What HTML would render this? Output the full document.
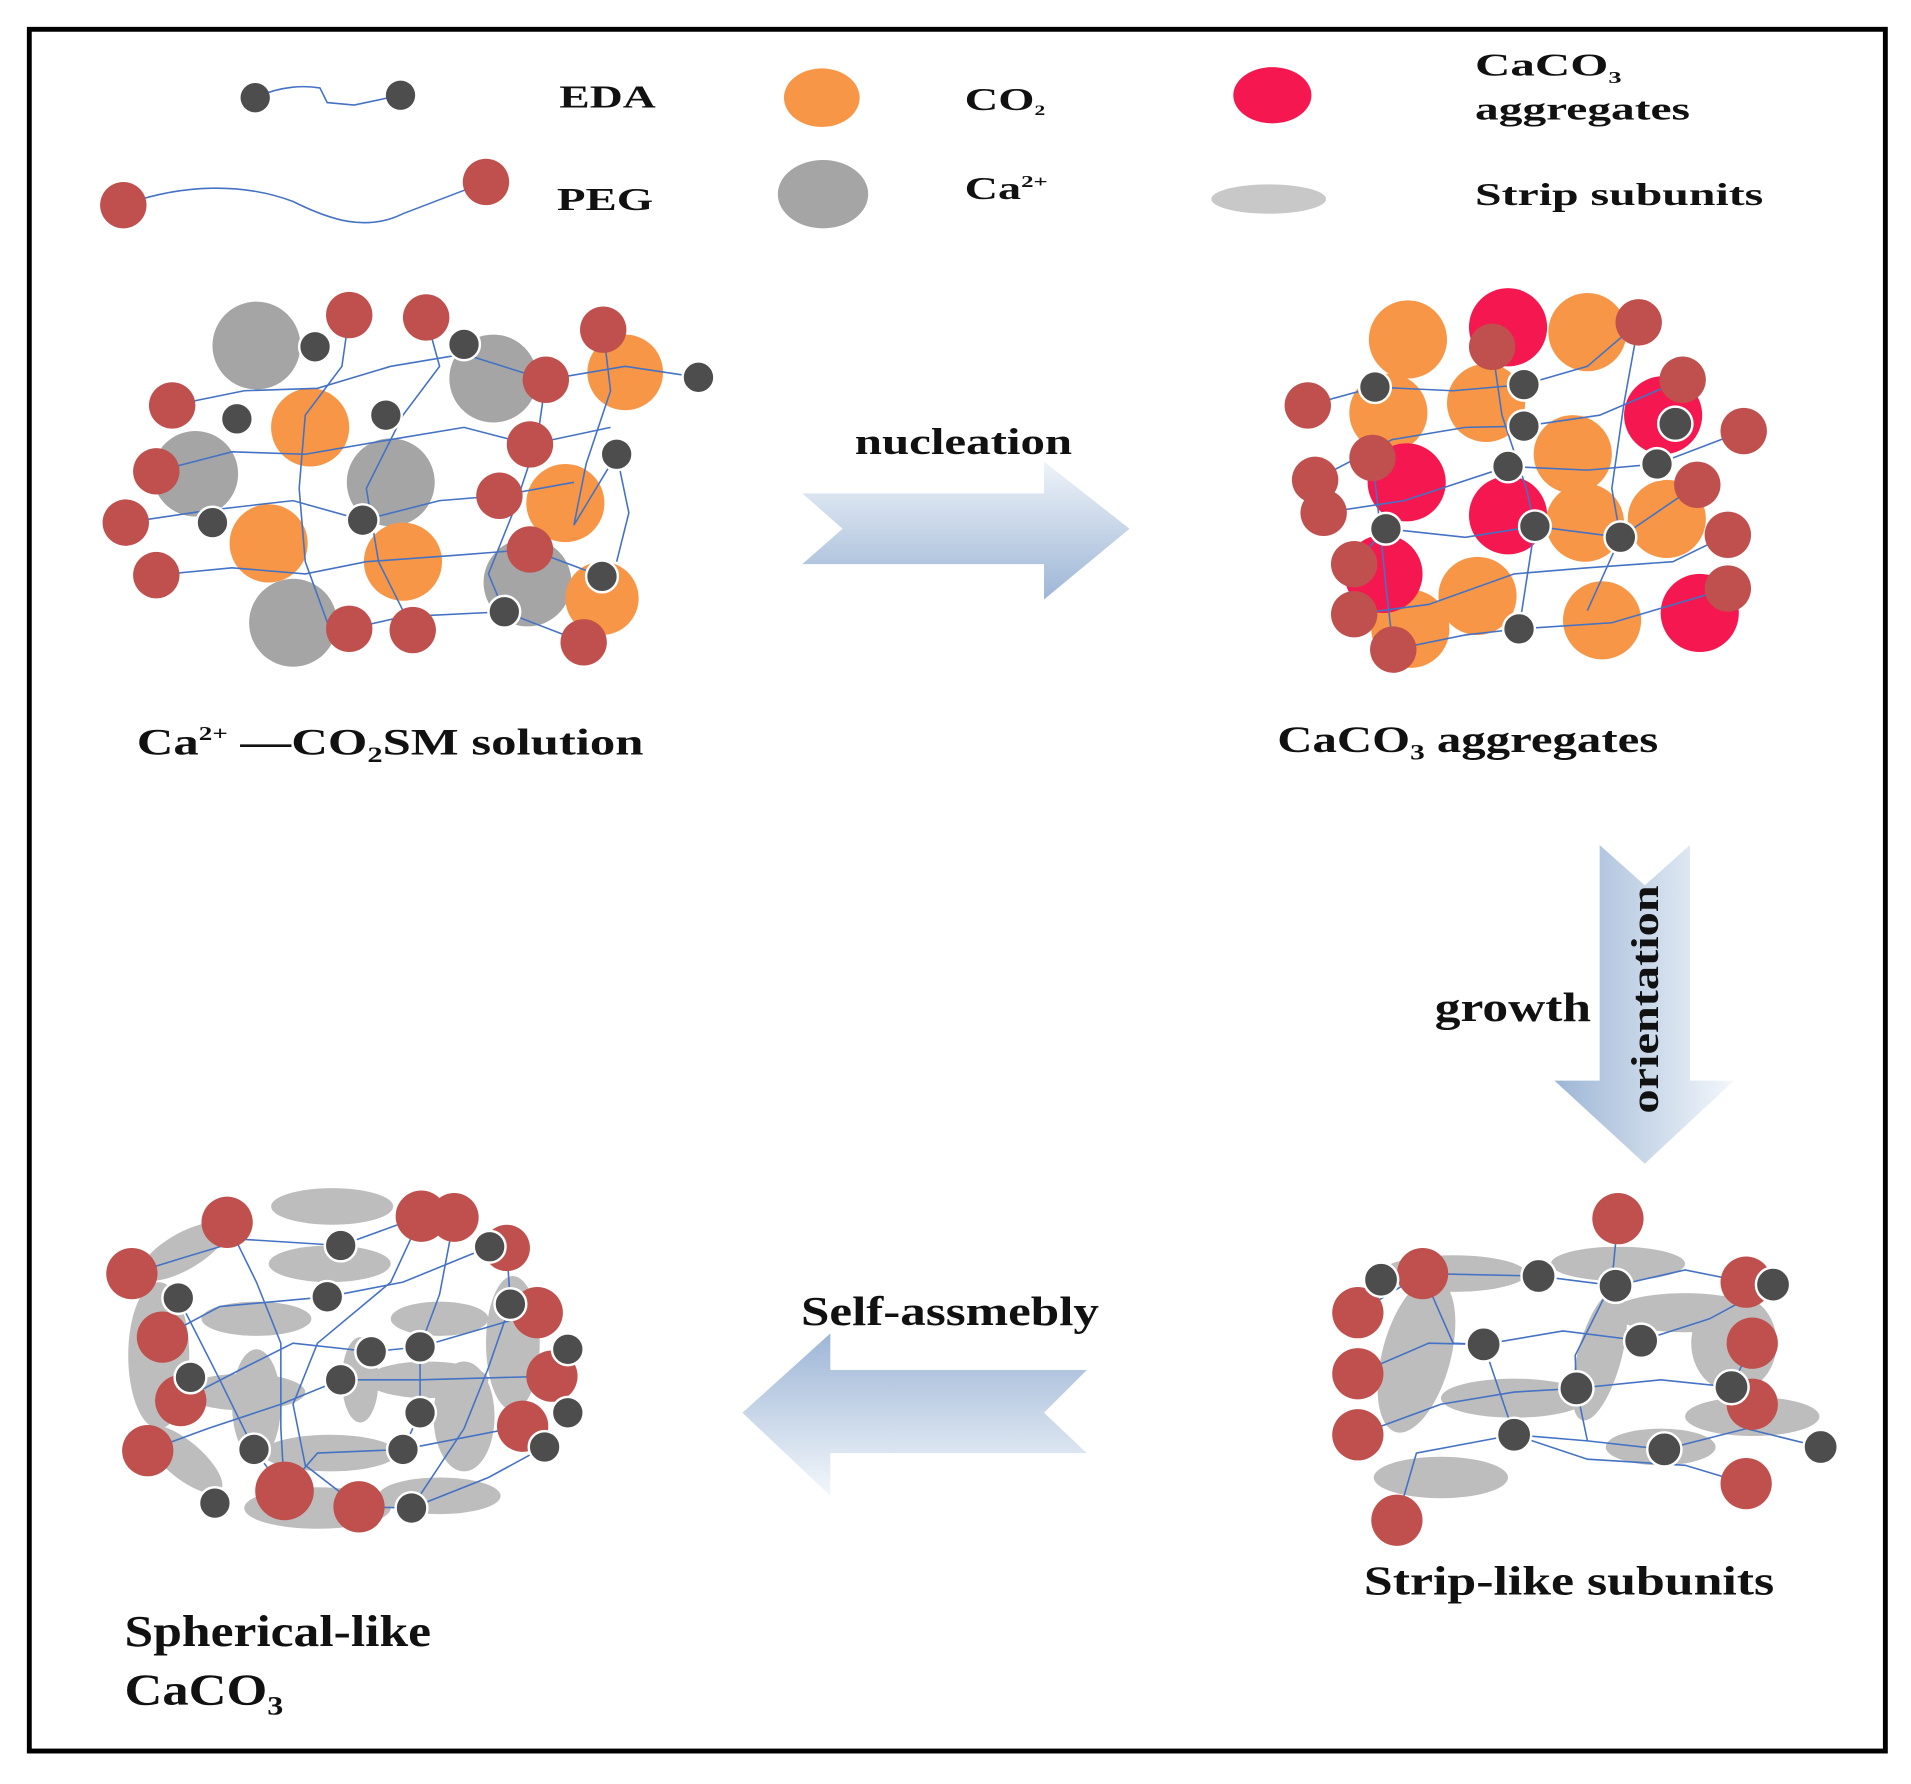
<!DOCTYPE html>
<html><head><meta charset="utf-8"><style>
html,body{margin:0;padding:0;background:#fff;}
svg{display:block;}
text{font-family:"Liberation Serif",serif;font-weight:bold;fill:#111;}
</style></head><body>
<svg width="1911" height="1784" viewBox="0 0 1565 1461" preserveAspectRatio="none" xmlns="http://www.w3.org/2000/svg">
<defs>
<linearGradient id="gh" x1="0" y1="0" x2="0" y2="1"><stop offset="0" stop-color="#eef3f9"/><stop offset="1" stop-color="#9db6d6"/></linearGradient>
<linearGradient id="gv" x1="0" y1="0" x2="1" y2="0"><stop offset="0" stop-color="#9db6d6"/><stop offset="1" stop-color="#f3f7fb"/></linearGradient>
<linearGradient id="gl" x1="0" y1="0" x2="0" y2="1"><stop offset="0" stop-color="#9db6d6"/><stop offset="1" stop-color="#f3f7fb"/></linearGradient>
</defs>
<rect x="0" y="0" width="1565" height="1461" fill="#fff"/>
<rect x="24" y="24" width="1520" height="1410" fill="none" stroke="#000" stroke-width="4"/>

<!-- legend -->
<g fill="none" stroke="#4472c4" stroke-width="1.3">
<path d="M209,80 C230,70 250,70 262,72 L268,84 L290,86 L328,78"/>
<path d="M101,168 C150,150 200,150 240,165 C270,180 300,190 330,175 L398,149"/>
</g>
<circle cx="209" cy="80" r="12" fill="#4d4d4d"/><circle cx="328" cy="78" r="12" fill="#4d4d4d"/>
<circle cx="101" cy="168" r="19" fill="#c0504d"/><circle cx="398" cy="149" r="19" fill="#c0504d"/>
<ellipse cx="673" cy="80" rx="31" ry="24" fill="#f79646"/>
<ellipse cx="674" cy="159" rx="37" ry="28" fill="#a5a5a5"/>
<ellipse cx="1042" cy="78" rx="32" ry="23" fill="#f5174f"/>
<ellipse cx="1039" cy="163" rx="47" ry="12" fill="#c8c8c8"/>
<text x="458" y="88" font-size="26" textLength="79" lengthAdjust="spacingAndGlyphs">EDA</text>
<text x="456" y="172" font-size="26" textLength="79" lengthAdjust="spacingAndGlyphs">PEG</text>
<text x="790" y="90" font-size="26" textLength="66" lengthAdjust="spacingAndGlyphs">CO<tspan font-size="12" dy="4">2</tspan></text>
<text x="790" y="163" font-size="26" textLength="68" lengthAdjust="spacingAndGlyphs">Ca<tspan font-size="14" dy="-10">2+</tspan></text>
<text x="1208" y="62" font-size="26" textLength="120" lengthAdjust="spacingAndGlyphs">CaCO<tspan font-size="14" dy="6">3</tspan></text>
<text x="1208" y="98" font-size="26" textLength="176" lengthAdjust="spacingAndGlyphs">aggregates</text>
<text x="1208" y="168" font-size="26" textLength="236" lengthAdjust="spacingAndGlyphs">Strip subunits</text>

<!-- arrows -->
<polygon points="657,404 855,404 855,378 925,433 855,491 855,462 657,462 690,433" fill="url(#gh)"/>
<polygon points="1310,692 1347,725 1384,692 1384,885 1420,885 1347,953 1273,885 1310,885" fill="url(#gv)"/>
<polygon points="890,1122 680,1122 680,1092 608,1157 680,1225 680,1190 890,1190 855,1157" fill="url(#gl)"/>
<text x="700" y="372" font-size="30" textLength="178" lengthAdjust="spacingAndGlyphs">nucleation</text>
<text x="1175" y="836" font-size="34" textLength="128" lengthAdjust="spacingAndGlyphs">growth</text>
<text transform="translate(1358,912) rotate(-90)" x="0" y="0" font-size="32" textLength="187" lengthAdjust="spacingAndGlyphs">orientation</text>
<text x="656" y="1085" font-size="34" textLength="244" lengthAdjust="spacingAndGlyphs">Self-assmebly</text>

<text x="112" y="618" font-size="30" textLength="415" lengthAdjust="spacingAndGlyphs">Ca<tspan font-size="16" dy="-12">2+</tspan><tspan dy="12"> —CO</tspan><tspan font-size="18" dy="6">2</tspan><tspan dy="-6">SM solution</tspan></text>
<text x="1046" y="616" font-size="30" textLength="312" lengthAdjust="spacingAndGlyphs">CaCO<tspan font-size="18" dy="6">3</tspan><tspan dy="-6"> aggregates</tspan></text>
<text x="1117" y="1306" font-size="34" textLength="336" lengthAdjust="spacingAndGlyphs">Strip-like subunits</text>
<text x="102" y="1348" font-size="36" textLength="251" lengthAdjust="spacingAndGlyphs">Spherical-like</text>
<text x="102" y="1396" font-size="36" textLength="130" lengthAdjust="spacingAndGlyphs">CaCO<tspan font-size="22" dy="8">3</tspan></text>

<!-- cluster 1 -->
<g fill="#a5a5a5">
<circle cx="210" cy="283" r="36"/><circle cx="404" cy="310" r="36"/><circle cx="160" cy="388" r="35"/><circle cx="320" cy="395" r="36"/><circle cx="240" cy="510" r="36"/><circle cx="432" cy="477" r="36"/>
</g>
<g fill="#f79646">
<circle cx="512" cy="305" r="31"/><circle cx="254" cy="350" r="32"/><circle cx="463" cy="412" r="32"/><circle cx="220" cy="445" r="32"/><circle cx="330" cy="460" r="32"/><circle cx="493" cy="490" r="30"/>
</g>
<g fill="none" stroke="#4472c4" stroke-width="1.3">
<path d="M141,332 L200,320 L260,318 L320,300 L380,290 L447,311 L512,300 L572,309"/>
<path d="M128,386 L190,370 L250,372 L320,360 L380,350 L434,364 L500,350"/>
<path d="M103,428 L170,418 L240,410 L297,426 L360,410 L409,406 L470,395"/>
<path d="M128,471 L190,465 L250,470 L300,460 L370,455 L434,450 L493,472"/>
<path d="M286,515 L330,505 L413,501 L478,526"/>
<path d="M286,258 L280,300 L250,340 L245,400 L250,460 L270,515"/>
<path d="M349,260 L360,300 L330,340 L300,400 L310,460 L338,516"/>
<path d="M494,270 L500,320 L480,380 L470,430 L505,372 L515,420 L505,460"/>
<path d="M447,311 L440,360 L420,420 L400,470 L413,501"/>
</g>
<g fill="#c0504d">
<circle cx="286" cy="258" r="19"/><circle cx="349" cy="260" r="19"/><circle cx="494" cy="270" r="19"/><circle cx="447" cy="311" r="19"/><circle cx="141" cy="332" r="19"/><circle cx="128" cy="386" r="19"/><circle cx="434" cy="364" r="19"/><circle cx="409" cy="406" r="19"/><circle cx="103" cy="428" r="19"/><circle cx="128" cy="471" r="19"/><circle cx="434" cy="450" r="19"/><circle cx="286" cy="515" r="19"/><circle cx="338" cy="516" r="19"/><circle cx="478" cy="526" r="19"/>
</g>
<g fill="#4d4d4d" stroke="#fff" stroke-width="2">
<circle cx="258" cy="284" r="13"/><circle cx="380" cy="282" r="13"/><circle cx="572" cy="309" r="13"/><circle cx="194" cy="343" r="13"/><circle cx="316" cy="340" r="13"/><circle cx="505" cy="372" r="13"/><circle cx="174" cy="428" r="13"/><circle cx="297" cy="426" r="13"/><circle cx="413" cy="501" r="13"/><circle cx="493" cy="472" r="13"/>
</g>

<!-- cluster 2 -->
<g fill="#f79646">
<circle cx="1153" cy="278" r="32"/><circle cx="1300" cy="272" r="32"/><circle cx="1137" cy="338" r="32"/><circle cx="1217" cy="330" r="32"/><circle cx="1288" cy="372" r="32"/><circle cx="1298" cy="428" r="32"/><circle cx="1365" cy="425" r="32"/><circle cx="1210" cy="488" r="32"/><circle cx="1312" cy="508" r="32"/><circle cx="1155" cy="515" r="32"/>
</g>
<g fill="#f5174f">
<circle cx="1235" cy="268" r="32"/><circle cx="1362" cy="340" r="32"/><circle cx="1152" cy="395" r="32"/><circle cx="1235" cy="422" r="32"/><circle cx="1133" cy="470" r="32"/><circle cx="1392" cy="502" r="32"/>
</g>
<g fill="none" stroke="#4472c4" stroke-width="1.3">
<path d="M1071,332 L1126,317 L1190,320 L1248,315 L1300,300 L1342,264"/>
<path d="M1077,393 L1140,360 L1200,350 L1248,349 L1310,340 L1378,311"/>
<path d="M1084,420 L1150,410 L1235,382 L1300,385 L1357,380 L1428,353"/>
<path d="M1109,462 L1135,433 L1200,440 L1257,431 L1327,440 L1390,397"/>
<path d="M1109,503 L1170,495 L1240,470 L1300,465 L1370,460 L1415,438"/>
<path d="M1141,532 L1200,520 L1244,515 L1320,510 L1415,482"/>
<path d="M1124,375 L1130,430 L1135,480 L1141,532"/>
<path d="M1222,284 L1230,340 L1250,400 L1257,431 L1244,515"/>
<path d="M1342,264 L1330,330 L1320,400 L1327,440 L1300,500"/>
</g>
<g fill="#c0504d">
<circle cx="1342" cy="264" r="19"/><circle cx="1222" cy="284" r="19"/><circle cx="1378" cy="311" r="19"/><circle cx="1071" cy="332" r="19"/><circle cx="1428" cy="353" r="19"/><circle cx="1124" cy="375" r="19"/><circle cx="1077" cy="393" r="19"/><circle cx="1390" cy="397" r="19"/><circle cx="1084" cy="420" r="19"/><circle cx="1415" cy="438" r="19"/><circle cx="1109" cy="462" r="19"/><circle cx="1415" cy="482" r="19"/><circle cx="1109" cy="503" r="19"/><circle cx="1141" cy="532" r="19"/>
</g>
<g fill="#4d4d4d" stroke="#fff" stroke-width="2">
<circle cx="1126" cy="317" r="13"/><circle cx="1248" cy="315" r="13"/><circle cx="1248" cy="349" r="13"/><circle cx="1372" cy="347" r="14"/><circle cx="1235" cy="382" r="13"/><circle cx="1357" cy="380" r="13"/><circle cx="1135" cy="433" r="13"/><circle cx="1257" cy="431" r="13"/><circle cx="1327" cy="440" r="13"/><circle cx="1244" cy="515" r="13"/>
</g>

<!-- cluster 3 -->
<g fill="#bdbdbd">
<ellipse cx="1190" cy="1043" rx="60" ry="15"/><ellipse cx="1325" cy="1035" rx="55" ry="14"/><ellipse cx="1160" cy="1110" rx="28" ry="65" transform="rotate(15 1160 1110)"/><ellipse cx="1240" cy="1145" rx="60" ry="16"/><ellipse cx="1435" cy="1160" rx="55" ry="16"/><ellipse cx="1360" cy="1185" rx="45" ry="15"/><ellipse cx="1180" cy="1210" rx="55" ry="17"/><ellipse cx="1380" cy="1075" rx="60" ry="16"/><ellipse cx="1310" cy="1110" rx="18" ry="55" transform="rotate(15 1310 1110)"/><ellipse cx="1420" cy="1100" rx="35" ry="40"/>
</g>
<g fill="none" stroke="#4472c4" stroke-width="1.3">
<path d="M1112,1075 L1165,1043 L1260,1045 L1323,1053 L1380,1040 L1430,1050"/>
<path d="M1112,1125 L1170,1100 L1215,1101 L1280,1090 L1344,1098 L1400,1080 L1452,1052"/>
<path d="M1112,1175 L1180,1150 L1240,1140 L1291,1137 L1360,1130 L1418,1136 L1435,1100"/>
<path d="M1144,1245 L1160,1190 L1240,1175 L1300,1180 L1363,1187 L1430,1170 L1491,1185"/>
<path d="M1325,998 L1320,1050 L1290,1110 L1291,1137 L1300,1180"/>
<path d="M1165,1043 L1190,1100 L1215,1101 L1240,1175"/>
<path d="M1430,1215 L1380,1200 L1300,1195 L1240,1175"/>
</g>
<g fill="#c0504d">
<circle cx="1325" cy="998" r="21"/><circle cx="1165" cy="1043" r="21"/><circle cx="1430" cy="1050" r="21"/><circle cx="1112" cy="1075" r="21"/><circle cx="1435" cy="1100" r="21"/><circle cx="1112" cy="1125" r="21"/><circle cx="1435" cy="1150" r="21"/><circle cx="1112" cy="1175" r="21"/><circle cx="1430" cy="1215" r="21"/><circle cx="1144" cy="1245" r="21"/>
</g>
<g fill="#4d4d4d" stroke="#fff" stroke-width="2">
<circle cx="1131" cy="1048" r="14"/><circle cx="1260" cy="1045" r="14"/><circle cx="1323" cy="1053" r="14"/><circle cx="1452" cy="1052" r="14"/><circle cx="1215" cy="1101" r="14"/><circle cx="1344" cy="1098" r="14"/><circle cx="1291" cy="1137" r="14"/><circle cx="1418" cy="1136" r="14"/><circle cx="1240" cy="1175" r="14"/><circle cx="1363" cy="1187" r="14"/><circle cx="1491" cy="1185" r="14"/>
</g>

<!-- cluster 4 -->
<g fill="#bdbdbd">
<ellipse cx="272" cy="988" rx="50" ry="15"/><ellipse cx="150" cy="1025" rx="40" ry="15" transform="rotate(-30 150 1025)"/><ellipse cx="270" cy="1035" rx="50" ry="15"/><ellipse cx="210" cy="1080" rx="45" ry="14"/><ellipse cx="360" cy="1080" rx="40" ry="14"/><ellipse cx="130" cy="1110" rx="25" ry="60"/><ellipse cx="420" cy="1100" rx="22" ry="55"/><ellipse cx="200" cy="1140" rx="50" ry="15"/><ellipse cx="350" cy="1130" rx="50" ry="15"/><ellipse cx="295" cy="1130" rx="15" ry="35"/><ellipse cx="380" cy="1160" rx="25" ry="45"/><ellipse cx="150" cy="1195" rx="40" ry="15" transform="rotate(40 150 1195)"/><ellipse cx="270" cy="1190" rx="55" ry="15"/><ellipse cx="260" cy="1235" rx="60" ry="17"/><ellipse cx="360" cy="1225" rx="50" ry="15"/><ellipse cx="210" cy="1150" rx="20" ry="45"/>
</g>
<g fill="none" stroke="#4472c4" stroke-width="1.3">
<path d="M108,1043 L150,1030 L200,1015 L279,1020 L345,996"/>
<path d="M133,1095 L180,1070 L268,1062 L330,1050 L401,1021"/>
<path d="M148,1147 L200,1120 L240,1100 L304,1107 L344,1103 L440,1075"/>
<path d="M121,1188 L170,1170 L230,1150 L279,1130 L344,1130 L452,1127"/>
<path d="M233,1221 L260,1190 L330,1187 L428,1168"/>
<path d="M294,1234 L337,1235 L400,1210 L446,1185"/>
<path d="M186,1001 L210,1050 L230,1100 L230,1170 L233,1221"/>
<path d="M345,996 L320,1050 L260,1100 L240,1150 L250,1200 L294,1234"/>
<path d="M372,997 L360,1060 L344,1103 L344,1157 L330,1187"/>
<path d="M415,1022 L418,1068 L400,1120 L380,1170 L337,1235"/>
<path d="M146,1063 L180,1130 L208,1187 L233,1221"/>
</g>
<g fill="#c0504d">
<circle cx="186" cy="1001" r="21"/><circle cx="345" cy="996" r="21"/><circle cx="372" cy="997" r="20"/><circle cx="415" cy="1022" r="19"/><circle cx="108" cy="1043" r="21"/><circle cx="440" cy="1075" r="21"/><circle cx="133" cy="1095" r="21"/><circle cx="452" cy="1127" r="21"/><circle cx="148" cy="1147" r="21"/><circle cx="428" cy="1168" r="21"/><circle cx="121" cy="1188" r="21"/><circle cx="233" cy="1221" r="24"/><circle cx="294" cy="1234" r="21"/>
</g>
<g fill="#4d4d4d" stroke="#fff" stroke-width="2">
<circle cx="279" cy="1020" r="13"/><circle cx="401" cy="1021" r="13"/><circle cx="146" cy="1063" r="13"/><circle cx="268" cy="1062" r="13"/><circle cx="418" cy="1068" r="13"/><circle cx="304" cy="1107" r="13"/><circle cx="344" cy="1103" r="13"/><circle cx="465" cy="1105" r="13"/><circle cx="156" cy="1128" r="13"/><circle cx="279" cy="1130" r="13"/><circle cx="344" cy="1157" r="13"/><circle cx="465" cy="1157" r="13"/><circle cx="208" cy="1187" r="13"/><circle cx="330" cy="1187" r="13"/><circle cx="446" cy="1185" r="13"/><circle cx="176" cy="1231" r="13"/><circle cx="337" cy="1235" r="13"/>
</g>
</svg>
</body></html>
